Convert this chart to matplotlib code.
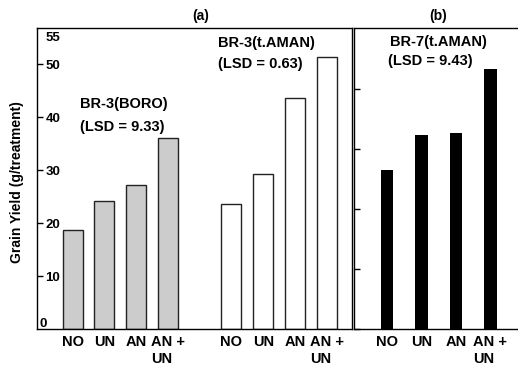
import numpy as np
import matplotlib
matplotlib.use('Agg')
import matplotlib.pyplot as plt

plt.rcParams['font.family'] = ['Liberation Sans', 'DejaVu Sans']
plt.rcParams['font.weight'] = 'bold'

# Datos
treat = ['NO', 'UN', 'AN', 'AN +\nUN']
boro = [18.7, 24.2, 27.1, 36.0]      # BR-3 (BORO)
aman3 = [23.6, 29.3, 43.6, 51.3]     # BR-3 (t.AMAN)
aman7 = [26.5, 32.4, 32.6, 43.4]     # BR-7 (t.AMAN)
yticks_a = [10, 20, 30, 40, 50]
yticks_b = [0, 10, 20, 30, 40]

W, H = 518, 368
fig = plt.figure(figsize=(W / 100, H / 100), dpi=100)

def box(x0, y0, x1, y1):
    # pixel box -> figure fraction
    return [x0 / W, 1 - y1 / H, (x1 - x0) / W, (y1 - y0) / H]

ax_a = fig.add_axes(box(37, 28, 352, 329))
ax_b = fig.add_axes(box(354, 28, 518, 329))

# Panel (a)
pos1 = np.arange(4)
pos2 = np.arange(4) + 5
ax_a.bar(pos1, boro, width=0.63, color='#cccccc', edgecolor='#222222', linewidth=1.0)
ax_a.bar(pos2, aman3, width=0.63, color='white', edgecolor='#222222', linewidth=1.0)
ax_a.set_xlim(-1.124, 8.797)
ax_a.set_ylim(0, 56.8)
ax_a.set_xticks(np.concatenate([pos1, pos2]))
ax_a.set_xticklabels(treat + treat, fontsize=10.5, fontweight='bold',
                     multialignment='left', linespacing=1.35)
ax_a.tick_params(axis='x', length=0, pad=4)
ax_a.set_yticks(yticks_a)
ax_a.set_yticklabels([str(v) for v in yticks_a], fontsize=9.5, fontweight='bold', ha='left')
ax_a.tick_params(axis='y', direction='in', length=4, width=1, pad=-6)
ax_a.text(3 / 315, 0.0 + 5 / 301, '0', transform=ax_a.transAxes, fontsize=9.5,
          fontweight='bold', ha='left', va='center')
ax_a.text(9 / 315, 55, '55', transform=ax_a.get_yaxis_transform(), fontsize=9.5,
          fontweight='bold', ha='left', va='center')
for s in ax_a.spines.values():
    s.set_linewidth(1.0)

ax_a.text(0.1365, 0.7475, 'BR-3(BORO)', transform=ax_a.transAxes, fontsize=10.5,
          fontweight='bold', va='center')
ax_a.text(0.1365, 0.671, '(LSD = 9.33)', transform=ax_a.transAxes, fontsize=10.5,
          fontweight='bold', va='center')
ax_a.text(0.575, 0.950, 'BR-3(t.AMAN)', transform=ax_a.transAxes, fontsize=10.5,
          fontweight='bold', va='center')
ax_a.text(0.575, 0.880, '(LSD = 0.63)', transform=ax_a.transAxes, fontsize=10.5,
          fontweight='bold', va='center')

# Panel (b)
ax_b.bar(np.arange(4), aman7, width=0.36, color='black')
ax_b.set_xlim(-0.964, 3.8)
ax_b.set_ylim(0, 50.17)
ax_b.set_xticks(np.arange(4))
ax_b.set_xticklabels(treat, fontsize=10.5, fontweight='bold',
                     multialignment='left', linespacing=1.35)
ax_b.tick_params(axis='x', length=0, pad=4)
ax_b.set_yticks(yticks_b)
ax_b.set_yticklabels([])
ax_b.tick_params(axis='y', direction='in', length=4, width=1)
ax_b.spines['right'].set_visible(False)
for s in ax_b.spines.values():
    s.set_linewidth(1.0)
ax_b.text(0.2195, 0.9535, 'BR-7(t.AMAN)', transform=ax_b.transAxes, fontsize=10.5,
          fontweight='bold', va='center')
ax_b.text(0.207, 0.890, '(LSD = 9.43)', transform=ax_b.transAxes, fontsize=10.5,
          fontweight='bold', va='center')

fig.text(201 / W, 1 - 16 / H, '(a)', fontsize=10, fontweight='bold', ha='center', va='center')
fig.text(438 / W, 1 - 16 / H, '(b)', fontsize=10, fontweight='bold', ha='center', va='center')
fig.text(17 / W, 1 - 182 / H, 'Grain Yield (g/treatment)', fontsize=10, fontweight='bold',
         rotation=90, ha='center', va='center')

fig.savefig('out.png', dpi=100)
